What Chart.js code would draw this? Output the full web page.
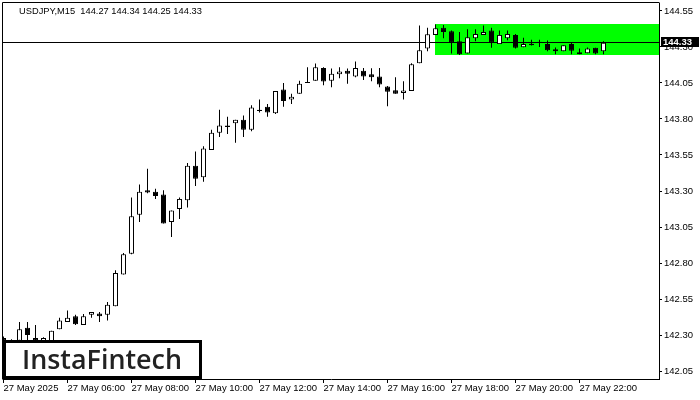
<!DOCTYPE html>
<html><head><meta charset="utf-8">
<script src="https://cdn.jsdelivr.net/npm/chart.js@4/dist/chart.umd.min.js"></script>
<style>html,body{margin:0;padding:0;background:#fff;}canvas{display:block;}</style>
</head><body>
<canvas id="c" width="700" height="400"></canvas>
<script>
const symbolName = 'USDJPY,M15';
const timeLabels = ['27 May 2025','27 May 06:00','27 May 08:00','27 May 10:00','27 May 12:00','27 May 14:00','27 May 16:00','27 May 18:00','27 May 20:00','27 May 22:00'];
const timeTickIndex = [0,8,16,24,32,40,48,56,64,72];
const priceTicks = [142.05,142.30,142.55,142.80,143.05,143.30,143.55,143.80,144.05,144.30,144.55];

const opens = [142.28,142.25,142.26,142.35,142.28,142.25,142.25,142.34,142.39,142.43,
142.37,142.44,142.45,142.44,142.50,142.72,142.865,143.135,143.305,143.295,
143.275,143.085,143.175,143.235,143.475,143.395,143.585,143.705,143.755,143.77,
143.795,143.725,143.855,143.885,143.84,144.005,143.935,143.975,144.05,144.065,
144.155,144.065,144.11,144.135,144.095,144.135,144.11,144.095,144.025,144.00,
143.98,143.994,144.187,144.29,144.384,144.434,144.41,144.34,144.255,144.36,
144.384,144.414,144.32,144.36,144.384,144.298,144.323,144.33,144.32,144.284,
144.27,144.32,144.263,144.256,144.294,144.27];
const highs = [142.29,142.27,142.39,142.39,142.37,142.285,142.33,142.42,142.47,142.44,
142.445,142.46,142.46,142.53,142.75,142.87,143.255,143.345,143.455,143.315,
143.305,143.165,143.255,143.495,143.575,143.61,143.725,143.865,143.815,143.795,
143.825,143.895,143.935,143.905,143.995,144.05,143.975,144.065,144.16,144.185,
144.16,144.15,144.16,144.15,144.20,144.155,144.153,144.155,144.03,144.09,
144.062,144.187,144.45,144.434,144.457,144.453,144.415,144.404,144.424,144.424,
144.45,144.434,144.414,144.414,144.39,144.364,144.35,144.35,144.345,144.297,
144.312,144.334,144.29,144.297,144.294,144.34];
const lows = [142.24,142.21,142.24,142.26,142.24,142.24,142.24,142.34,142.39,142.37,
142.37,142.42,142.39,142.40,142.50,142.72,142.86,143.085,143.285,143.245,
143.075,142.98,143.105,143.185,143.335,143.365,143.585,143.675,143.695,143.635,
143.675,143.715,143.845,143.815,143.835,143.885,143.905,143.975,144.05,144.065,
144.035,144.02,144.083,144.045,144.09,144.07,144.062,144.02,143.888,143.975,
143.935,143.994,144.187,144.27,144.384,144.36,144.255,144.244,144.255,144.34,
144.384,144.294,144.32,144.347,144.29,144.298,144.31,144.30,144.27,144.25,
144.27,144.25,144.25,144.256,144.25,144.25];
const closes = [142.26,142.26,142.34,142.30,142.26,142.28,142.33,142.40,142.42,142.375,
142.43,142.46,142.43,142.51,142.73,142.86,143.125,143.295,143.29,143.265,
143.075,143.165,143.245,143.475,143.385,143.595,143.705,143.755,143.745,143.795,
143.725,143.88,143.865,143.845,143.995,143.925,143.955,144.045,144.055,144.16,
144.06,144.115,144.13,144.115,144.155,144.095,144.09,144.04,143.99,143.975,
143.998,144.18,144.277,144.389,144.43,144.404,144.333,144.25,144.367,144.39,
144.404,144.333,144.384,144.39,144.295,144.32,144.312,144.33,144.277,144.27,
144.312,144.274,144.25,144.29,144.254,144.33];

const zoneStartIndex = 54;
const zoneHigh = 144.46;
const zoneLow = 144.245;

const FONT = 'Liberation Sans';
const n = closes.length;
const lastO = opens[n-1], lastH = highs[n-1], lastL = lows[n-1], lastC = closes[n-1];

const bodyData = closes.map((c,i)=>({x:i, y:[Math.min(opens[i],c), Math.max(opens[i],c)]}));
const wickData = closes.map((c,i)=>({x:i, y:[lows[i], highs[i]]}));
const bodyFill = closes.map((c,i)=> c >= opens[i] ? '#ffffff' : '#000000');

const overlay = {
  id: 'overlay',
  beforeDatasetsDraw(chart){
    const {ctx, chartArea:a, scales:{x, y}} = chart;
    ctx.save();
    ctx.beginPath(); ctx.rect(a.left, a.top, a.right-a.left, a.bottom-a.top); ctx.clip();
    const zx = Math.round(x.getPixelForValue(zoneStartIndex) - 0.5);
    const zy1 = Math.round(y.getPixelForValue(zoneHigh));
    const zy2 = Math.round(y.getPixelForValue(zoneLow));
    ctx.fillStyle = '#00ff00';
    ctx.fillRect(zx, zy1, a.right - zx, zy2 - zy1);
    const ly = Math.floor(y.getPixelForValue(lastC)) + 0.5;
    ctx.strokeStyle = '#000'; ctx.lineWidth = 1;
    ctx.beginPath(); ctx.moveTo(a.left, ly); ctx.lineTo(a.right, ly); ctx.stroke();
    ctx.restore();
  },
  afterDraw(chart){
    const {ctx, chartArea:a, scales:{y}} = chart;
    ctx.save();
    ctx.strokeStyle = '#000'; ctx.lineWidth = 1;
    ctx.beginPath();
    ctx.moveTo(a.left - 0.5, a.bottom + 0.5); ctx.lineTo(a.left - 0.5, a.top - 0.5); ctx.lineTo(a.right + 0.5, a.top - 0.5);
    ctx.stroke();
    const title = symbolName + '  ' + [lastO,lastH,lastL,lastC].map(v=>v.toFixed(2)).join(' ');
    ctx.font = '10px "' + FONT + '"';
    const tw = ctx.measureText(title).width;
    const fs = 10 * 183 / tw;
    ctx.font = fs.toFixed(2) + 'px "' + FONT + '"';
    ctx.fillStyle = '#000'; ctx.textBaseline = 'middle'; ctx.textAlign = 'left';
    ctx.fillText(title, a.left + 16, a.top + 8);
    const ly = Math.floor(y.getPixelForValue(lastC)) + 0.5;
    ctx.fillStyle = '#000';
    ctx.fillRect(a.right + 2, Math.round(ly - 5.5), 700 - a.right - 3, 10);
    ctx.fillStyle = '#fff';
    ctx.font = 'bold 9.5px "' + FONT + '"';
    ctx.textBaseline = 'middle';
    ctx.fillText(lastC.toFixed(2), a.right + 4, ly);
    ctx.fillStyle = '#fff';
    ctx.fillRect(a.left, 340, 198, 39);
    ctx.strokeStyle = '#000'; ctx.lineWidth = 3;
    ctx.strokeRect(a.left + 1.5, 341.5, 196, 36);
    const logo = 'InstaFintech';
    ctx.font = '600 28px "Open Sans"';
    const lw = ctx.measureText(logo).width;
    ctx.font = '600 ' + (28 * 160 / lw).toFixed(2) + 'px "Open Sans"';
    ctx.fillStyle = '#222'; ctx.textBaseline = 'alphabetic'; ctx.textAlign = 'left';
    ctx.fillText(logo, 22, 369);
    ctx.restore();
  }
};

new Chart(document.getElementById('c'), {
  type: 'bar',
  data: {
    datasets: [
      { label: 'body', data: bodyData, order: 0, grouped: false,
        backgroundColor: bodyFill, borderColor: '#000', borderWidth: 1, borderSkipped: false,
        barThickness: 5, minBarLength: 1, inflateAmount: 0 },
      { label: 'wick', data: wickData, order: 1, grouped: false,
        backgroundColor: '#000', borderWidth: 0, barThickness: 1, inflateAmount: 0 }
    ]
  },
  options: {
    responsive: false, animation: false, devicePixelRatio: 1,
    layout: { padding: { left: 3, top: 3, right: 0, bottom: 0 } },
    plugins: { legend: { display: false }, tooltip: { enabled: false } },
    scales: {
      x: {
        type: 'linear', offset: false, min: -0.0625, max: -0.0625 + 656/8,
        grid: { display: true, drawOnChartArea: false, drawTicks: true, tickLength: 4, color: '#000', offset: false },
        border: { display: true, color: '#000', width: 1 },
        afterBuildTicks: s => { s.ticks = timeTickIndex.map(v => ({ value: v })); },
        afterFit: s => { s.height = 21; s.paddingLeft = 0; s.paddingRight = 0; },
        ticks: { autoSkip: false, maxRotation: 0, minRotation: 0, align: 'start', padding: 0, color: '#000',
          font: { family: FONT, size: 9.5 },
          callback: (v, i) => timeLabels[i] }
      },
      y: {
        type: 'linear', position: 'right', min: 144.55 - 368/144, max: 144.55 + 8/144,
        grid: { display: true, drawOnChartArea: false, drawTicks: true, tickLength: 3, color: '#000' },
        border: { display: true, color: '#000', width: 1 },
        afterBuildTicks: s => { s.ticks = priceTicks.map(v => ({ value: v })); },
        afterFit: s => { s.width = 41; s.paddingTop = 0; s.paddingBottom = 0; },
        ticks: { padding: 2, color: '#000', font: { family: FONT, size: 9.5 },
          callback: v => Number(v).toFixed(2) }
      }
    }
  },
  plugins: [overlay]
});
</script>
</body></html>
